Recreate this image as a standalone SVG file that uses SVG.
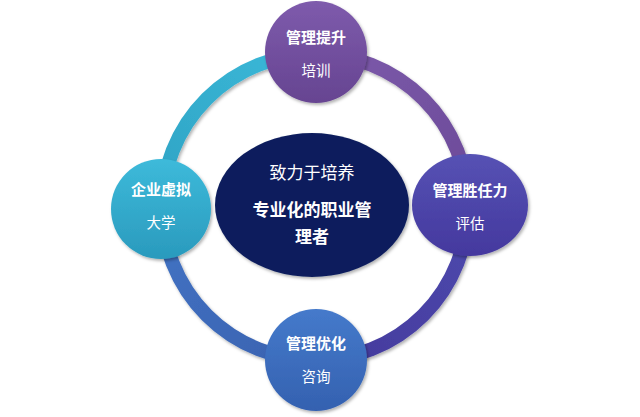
<svg xmlns="http://www.w3.org/2000/svg" width="640" height="417" viewBox="0 0 640 417">
  <defs>
    <filter id="sh" x="-20%" y="-20%" width="140%" height="140%">
      <feDropShadow dx="1.5" dy="2" stdDeviation="1.6" flood-color="#000" flood-opacity="0.3"/>
    </filter>
    <linearGradient id="gTop" x1="0" y1="0" x2="0" y2="1">
      <stop offset="0" stop-color="#7E5BAC"/><stop offset="1" stop-color="#664491"/>
    </linearGradient>
    <linearGradient id="gLeft" x1="0" y1="0" x2="0" y2="1">
      <stop offset="0" stop-color="#3DBADA"/><stop offset="1" stop-color="#2A9ABD"/>
    </linearGradient>
    <linearGradient id="gRight" x1="0" y1="0" x2="0" y2="1">
      <stop offset="0" stop-color="#5652B4"/><stop offset="1" stop-color="#44389E"/>
    </linearGradient>
    <linearGradient id="gBottom" x1="0" y1="0" x2="0" y2="1">
      <stop offset="0" stop-color="#457ACB"/><stop offset="1" stop-color="#3461B0"/>
    </linearGradient>
    <linearGradient id="aTL" gradientUnits="userSpaceOnUse" x1="315" y1="54" x2="162" y2="207">
      <stop offset="0" stop-color="#3BB9D9"/><stop offset="1" stop-color="#2FA3C4"/>
    </linearGradient>
    <linearGradient id="aTR" gradientUnits="userSpaceOnUse" x1="315" y1="54" x2="468" y2="207">
      <stop offset="0" stop-color="#7D5AAB"/><stop offset="1" stop-color="#6B4A98"/>
    </linearGradient>
    <linearGradient id="aBR" gradientUnits="userSpaceOnUse" x1="468" y1="207" x2="315" y2="360">
      <stop offset="0" stop-color="#4E49AD"/><stop offset="1" stop-color="#433A9C"/>
    </linearGradient>
    <linearGradient id="aBL" gradientUnits="userSpaceOnUse" x1="162" y1="207" x2="315" y2="360">
      <stop offset="0" stop-color="#4273C4"/><stop offset="1" stop-color="#3A62B0"/>
    </linearGradient>
  </defs>
  <style>
    .arc { fill: none; stroke-width: 14; filter: url(#sh); }
    .node { filter: url(#sh); }
    .t { font-family: "Noto Sans CJK SC", "Noto Sans", sans-serif; fill: #ffffff; text-anchor: middle; }
    .b { font-weight: bold; font-size: 15px; }
    .s { font-size: 14.5px; }
    .c { font-size: 17px; }
    .cb { font-size: 17px; font-weight: bold; }
  </style>
  <rect width="640" height="417" fill="#ffffff"/>
  <g id="connectors">
    <path class="arc" stroke="url(#aTL)" d="M162,207 A153,153 0 0 1 315,54"/>
    <path class="arc" stroke="url(#aTR)" d="M315,54 A153,153 0 0 1 468,207"/>
    <path class="arc" stroke="url(#aBR)" d="M468,207 A153,153 0 0 1 315,360"/>
    <path class="arc" stroke="url(#aBL)" d="M315,360 A153,153 0 0 1 162,207"/>
  </g>
  <g id="node-top">
    <circle class="node" cx="316" cy="52" r="51" fill="url(#gTop)"/>
    <text class="t b" x="316" y="43">管理提升</text>
    <text class="t s" x="316" y="76">培训</text>
  </g>
  <g id="node-left">
    <circle class="node" cx="161" cy="209" r="50" fill="url(#gLeft)"/>
    <text class="t b" x="161" y="195">企业虚拟</text>
    <text class="t s" x="161" y="228">大学</text>
  </g>
  <g id="node-right">
    <ellipse class="node" cx="470" cy="205" rx="58" ry="51" fill="url(#gRight)"/>
    <text class="t b" x="470" y="196">管理胜任力</text>
    <text class="t s" x="470" y="229">评估</text>
  </g>
  <g id="node-bottom">
    <circle class="node" cx="316" cy="360" r="51" fill="url(#gBottom)"/>
    <text class="t b" x="316" y="349">管理优化</text>
    <text class="t s" x="316" y="382">咨询</text>
  </g>
  <g id="node-center">
    <ellipse class="node" cx="312" cy="205" rx="97" ry="72" fill="#0C1F5D"/>
    <text class="t c" x="312" y="179">致力于培养</text>
    <text class="t cb" x="312" y="216">专业化的职业管</text>
    <text class="t cb" x="312" y="243">理者</text>
  </g>
</svg>
